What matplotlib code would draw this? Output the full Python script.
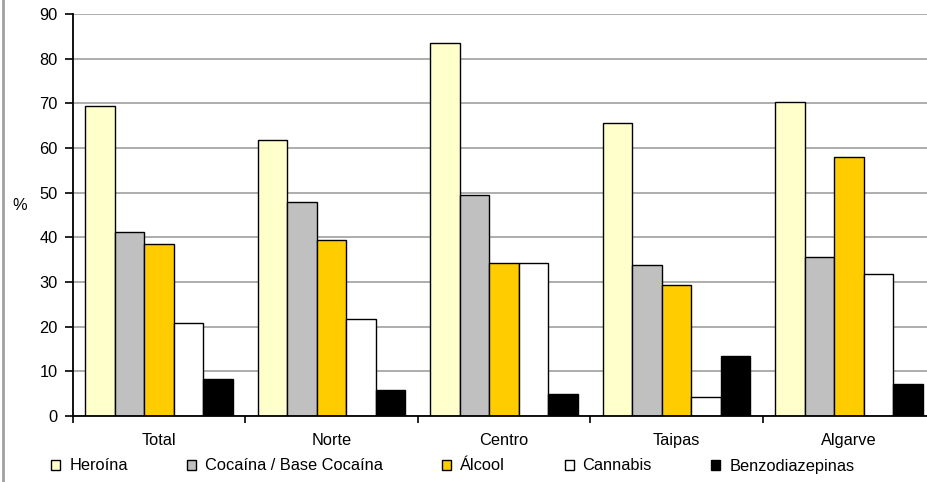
import numpy as np
import matplotlib.pyplot as plt
from matplotlib.patches import Patch
from matplotlib.lines import Line2D

plt.rcParams['font.family'] = ['Liberation Sans', 'DejaVu Sans']

# Dados
regioes = ["Total", "Norte", "Centro", "Taipas", "Algarve"]
series = ["Heroína", "Cocaína / Base Cocaína", "Álcool", "Cannabis", "Benzodiazepinas"]
heroina = [69.5, 61.8, 83.6, 65.7, 70.3]
cocaina = [41.2, 48.0, 49.4, 33.9, 35.6]
alcool = [38.5, 39.5, 34.2, 29.3, 58.0]
cannabis = [20.8, 21.8, 34.2, 4.2, 31.8]
benzo = [8.2, 5.8, 5.0, 13.5, 7.2]
cores = ["#FFFFCC", "#C0C0C0", "#FFCC00", "#FFFFFF", "#000000"]

valores = [heroina, cocaina, alcool, cannabis, benzo]
fs = 11.8

fig = plt.figure(figsize=(9.28, 4.82), dpi=100)
ax = fig.add_axes([73 / 928, 1 - 416 / 482, 862 / 928, 402 / 482])

x = np.arange(len(regioes))
largura = 0.171
for i, (nome, v, c) in enumerate(zip(series, valores, cores)):
    ax.bar(x + (i - 2) * largura, v, width=largura, color=c,
           edgecolor="black", linewidth=1.0, label=nome, zorder=3)

ax.set_xlim(-0.5, len(regioes) - 0.5)
ax.set_ylim(0, 90)
ax.set_yticks(range(0, 91, 10))
ax.yaxis.grid(True, color="#A0A0A0", linewidth=1.2, zorder=0)
ax.set_axisbelow(True)

ax.set_xticks(x)
ax.set_xticklabels(regioes, fontsize=fs)
ax.tick_params(axis="x", length=0, pad=12)
ax.set_xticks(np.arange(-0.5, len(regioes), 1), minor=True)
ax.tick_params(axis="x", which="minor", length=5, width=1.2, direction="out")
ax.tick_params(axis="y", length=6, width=1.2, direction="out", labelsize=fs, pad=5)

for s in ["top", "right"]:
    ax.spines[s].set_visible(False)
for s in ["left", "bottom"]:
    ax.spines[s].set_linewidth(1.3)
    ax.spines[s].set_zorder(5)

ax.set_ylabel("%", rotation=0, fontsize=fs, va="center", ha="center")
ax.yaxis.set_label_coords(-53 / 862, (416 - 205) / 402)

handles = [Patch(facecolor=c, edgecolor="black", linewidth=1.0) for c in cores]
fig.legend(handles, series, loc="center", bbox_to_anchor=(0.488, 1 - 466 / 482),
           ncol=5, frameon=False, fontsize=fs, handlelength=0.55, handleheight=0.55,
           handletextpad=0.55, columnspacing=3.62, borderpad=0)

# borda esquerda
fig.add_artist(Line2D([2.5 / 928, 2.5 / 928], [0, 1], color="#A0A0A0", linewidth=2))

fig.savefig("out.png", dpi=100)
